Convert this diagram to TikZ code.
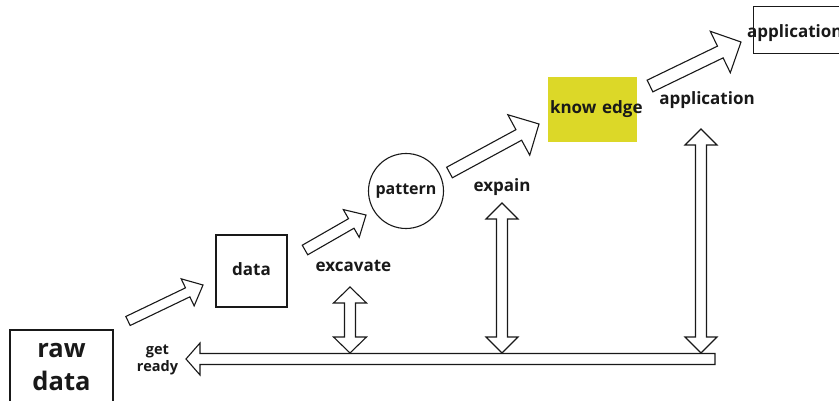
\documentclass[tikz,border=0pt]{standalone}
\usepackage{fontspec}
\setmainfont{Open Sans}
\usetikzlibrary{calc}
\definecolor{knowyellow}{RGB}{220,216,40}
\definecolor{ink}{RGB}{25,25,25}
\newcommand\blockarrow[5]{% tail, tip, half shaft, half head, head length
  \coordinate (bam) at ($(#2)!#5!(#1)$);
  \draw[arrowline] ($(#1)!#3!90:(#2)$) -- ($(bam)!#3!90:(#2)$) -- ($(bam)!#4!90:(#2)$) -- (#2)
    -- ($(bam)!#4!-90:(#2)$) -- ($(bam)!#3!-90:(#2)$) -- ($(#1)!#3!-90:(#2)$) -- cycle;}
\newcommand\dblarrow[5]{% end A, end B, half shaft, half head, head length
  \coordinate (dbma) at ($(#1)!#5!(#2)$);
  \coordinate (dbmb) at ($(#2)!#5!(#1)$);
  \draw[arrowline] (#1) -- ($(dbma)!#4!90:(#2)$) -- ($(dbma)!#3!90:(#2)$) -- ($(dbmb)!#3!-90:(#1)$)
    -- ($(dbmb)!#4!-90:(#1)$) -- (#2) -- ($(dbmb)!#4!90:(#1)$) -- ($(dbmb)!#3!90:(#1)$)
    -- ($(dbma)!#3!-90:(#2)$) -- ($(dbma)!#4!-90:(#2)$) -- cycle;}
\begin{document}
\begin{tikzpicture}[x=1pt,y=-1pt,
  arrowline/.style={draw=ink, line width=1.1pt, fill=white, line join=miter},
  boxnode/.style={draw=ink, line width=1.1pt, inner sep=0pt},
  lbl/.style={font=\bfseries\fontsize{17}{19}\selectfont, text=ink, inner sep=0pt}]
\path[use as bounding box, clip] (0,0) rectangle (839,401);
\fill[white] (0,0) rectangle (839,401);
% nodes
\node[boxnode, minimum width=103pt, minimum height=74pt, align=center,
  font=\bfseries\fontsize{25.5}{33}\selectfont, text=ink] (raw) at (61.5,367) {raw\\data};
\node[boxnode, minimum width=71pt, minimum height=72pt, font=\bfseries\fontsize{17}{19}\selectfont, text=ink] (data) at (251.5,271) {\raisebox{4pt}{data}};
\node[boxnode, circle, minimum size=75pt, font=\bfseries\fontsize{16}{18}\selectfont, text=ink] (pattern) at (406,191) {pattern};
\node[fill=knowyellow, minimum width=89pt, minimum height=65pt, inner xsep=2pt, inner ysep=0pt,
  text width=85pt, align=left, font=\bfseries\fontsize{17}{19}\selectfont, text=ink] (know) at (592.5,109.5) {\raisebox{2pt}{know edge}};
\node[boxnode, minimum width=110pt, minimum height=47pt, anchor=north west] (apptop) at (753,6) {};
\node[lbl, anchor=west] (apptoptext) at ($(apptop.west)+(-6,3)$) {application};
% labels
\node[lbl, align=center, font=\bfseries\fontsize{14.5}{17}\selectfont] (getready) at (157.5,360) {get\\ready};
\node[lbl] (excavate) at (353.5,266) {excavate};
\node[lbl] (expain) at (502,187) {expain};
\node[lbl] (applbl) at (707,100) {application};
% coordinates of arrows
\coordinate (a1t) at (128,321); \coordinate (a1h) at (203,285);
\coordinate (a2t) at (305,250); \coordinate (a2h) at (366,215);
\coordinate (a3t) at (449.5,172.5); \coordinate (a3h) at (539,124);
\coordinate (a4t) at (650,86); \coordinate (a4h) at (741,42);
\coordinate (bart) at (715,359); \coordinate (barh) at (186,359);
\coordinate (v1a) at (350,287); \coordinate (v1b) at (350,353);
\coordinate (v2a) at (502,203); \coordinate (v2b) at (502,353);
\coordinate (v3a) at (701,129); \coordinate (v3b) at (701,353);
% arrows
\blockarrow{a1t}{a1h}{5pt}{15pt}{17pt}
\blockarrow{a2t}{a2h}{5.5pt}{16pt}{17pt}
\blockarrow{a3t}{a3h}{6pt}{23pt}{23pt}
\blockarrow{a4t}{a4h}{6.5pt}{23pt}{23pt}
\blockarrow{bart}{barh}{5.5pt}{16pt}{14pt}
\dblarrow{v1a}{v1b}{5.5pt}{16.5pt}{16pt}
\dblarrow{v2a}{v2b}{5.5pt}{16pt}{16pt}
\dblarrow{v3a}{v3b}{5.5pt}{16pt}{16pt}
\end{tikzpicture}
\end{document}
